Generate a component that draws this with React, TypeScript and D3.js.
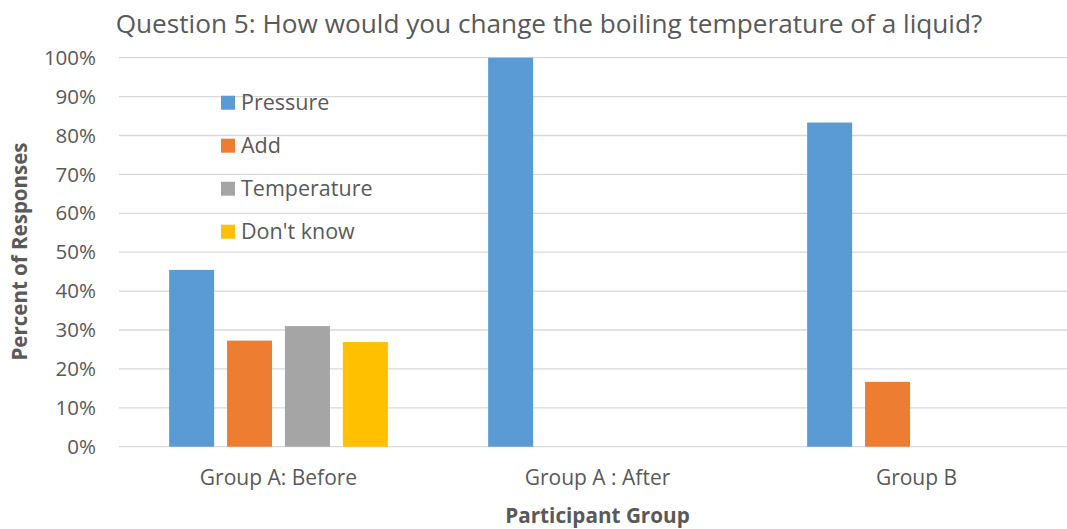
import React from "react";
import * as d3 from "d3";

const categories = ["Group A: Before", "Group A : After", "Group B"];
const seriesNames = ["Pressure", "Add", "Temperature", "Don't know"];
const seriesColors = ["#5B9BD5", "#ED7D31", "#A5A5A5", "#FFC000"];
// Percent of responses per group, one array per answer
const pressure = [45.45, 100, 83.33];
const add = [27.27, 0, 16.67];
const temperature = [31.0, 0, 0];
const dontKnow = [26.9, 0, 0];
const yTicks = [0, 10, 20, 30, 40, 50, 60, 70, 80, 90, 100];

const seriesValues = [pressure, add, temperature, dontKnow];

const W = 1067;
const H = 529;
const plotLeft = 119;
const plotRight = 1076;
const plotTop = 57.7;
const plotBottom = 446.7;
const FONT = "'Open Sans', sans-serif";
const TEXT = "#595959";

export default function App() {
  const x0 = d3.scaleBand<string>().domain(categories).range([plotLeft, plotRight]);
  const x1 = d3
    .scaleBand<string>()
    .domain(seriesNames)
    .range([0, x0.bandwidth()])
    .paddingInner(0.223)
    .paddingOuter(0.866);
  const y = d3.scaleLinear().domain([0, 100]).range([plotBottom, plotTop]);

  return (
    <div style={{ position: "fixed", left: 0, top: 0 }}>
      <svg width={W} height={H} style={{ display: "block", background: "#fff" }}>
        {/* gridlines */}
        {yTicks.map((t) => (
          <line
            key={t}
            x1={plotLeft}
            x2={plotRight}
            y1={y(t)}
            y2={y(t)}
            stroke="#d9d9d9"
            strokeWidth={1.3}
          />
        ))}
        {/* y tick labels */}
        {yTicks.map((t) => (
          <text
            key={"l" + t}
            x={96}
            y={y(t)}
            dy="0.35em"
            textAnchor="end"
            fontFamily={FONT}
            fontSize={20.5}
            fill={TEXT}
          >
            {t + "%"}
          </text>
        ))}
        {/* bars */}
        {categories.map((c, ci) =>
          seriesNames.map((s, si) => {
            const v = seriesValues[si][ci];
            if (!v) return null;
            return (
              <rect
                key={c + s}
                x={(x0(c) ?? 0) + (x1(s) ?? 0)}
                y={y(v)}
                width={x1.bandwidth()}
                height={y(0) - y(v)}
                fill={seriesColors[si]}
              />
            );
          })
        )}
        {/* category labels */}
        {categories.map((c) => (
          <text
            key={"c" + c}
            x={(x0(c) ?? 0) + x0.bandwidth() / 2}
            y={485}
            textAnchor="middle"
            fontFamily={FONT}
            fontSize={21}
            fill={TEXT}
          >
            {c}
          </text>
        ))}
        {/* legend */}
        {seriesNames.map((s, i) => (
          <g key={"lg" + s} transform={`translate(221, ${102.7 + i * 43})`}>
            <rect x={0} y={-7} width={14} height={14} fill={seriesColors[i]} />
            <text x={20} y={0} dy="0.35em" fontFamily={FONT} fontSize={21.5} fill={TEXT}>
              {s}
            </text>
          </g>
        ))}
        {/* title */}
        <text
          x={549}
          y={33}
          textAnchor="middle"
          fontFamily={FONT}
          fontSize={26.2}
          fill={TEXT}
        >
          Question 5: How would you change the boiling temperature of a liquid?
        </text>
        {/* axis titles */}
        <text
          x={597.5}
          y={523}
          textAnchor="middle"
          fontFamily={FONT}
          fontSize={20.7}
          fontWeight="bold"
          fill={TEXT}
        >
          Participant Group
        </text>
        <text
          transform={`translate(27, 251.5) rotate(-90)`}
          textAnchor="middle"
          fontFamily={FONT}
          fontSize={20.5}
          fontWeight="bold"
          fill={TEXT}
        >
          Percent of Responses
        </text>
      </svg>
    </div>
  );
}
